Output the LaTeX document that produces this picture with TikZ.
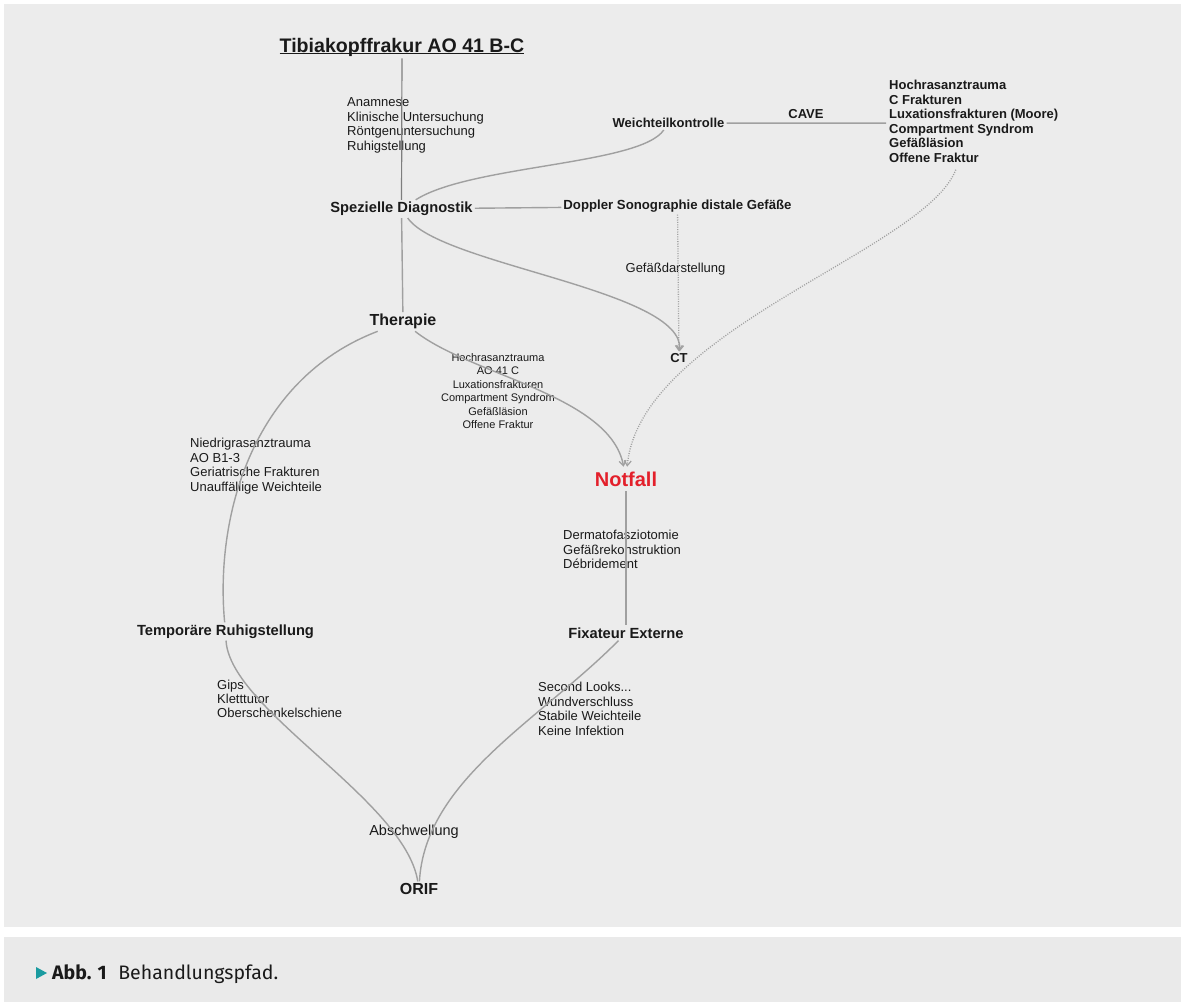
\documentclass[tikz,border=0pt]{standalone}
\usepackage{fontspec}
\setmainfont{Liberation Sans}
\newfontfamily\capfont{Fira Sans}
\usetikzlibrary{arrows.meta}
\definecolor{panel}{HTML}{ECECEC}
\definecolor{cappanel}{HTML}{EAEAEA}
\definecolor{linegray}{HTML}{A0A0A0}
\definecolor{titlegray}{HTML}{7E7E7E}
\definecolor{txt}{HTML}{1A1A1A}
\definecolor{notred}{HTML}{E3202B}
\definecolor{capteal}{HTML}{1A9BA0}
\newcommand\fs[2]{\fontsize{#1}{#2}\selectfont}
\newcommand\ulbox[1]{\setbox0\hbox{#1}\rlap{\rule[-2.4pt]{\wd0}{1.3pt}}\box0}
\begin{document}
\begin{tikzpicture}[x=1pt,y=-1pt,
  every node/.style={text=txt},
  hd/.style={font=\bfseries\fs{#1}{#1}, inner sep=2pt, anchor=base},
  lbl/.style={inner sep=0pt, anchor=base west},
  conn/.style={draw=linegray, line width=1.4pt},
  dots/.style={draw=linegray, line width=1.3pt, dash pattern=on 1pt off 1.4pt},
  tip/.style={-{Straight Barb[length=5pt,width=7pt,line width=1.2pt]}},
]
\useasboundingbox (0,0) rectangle (1181,1002);
\fill[white] (0,0) rectangle (1181,1002);
\fill[panel] (4,4) rectangle (1181,927);
\fill[cappanel] (4,937) rectangle (1181,1002);

% main nodes
\node[hd=19.6] (title) at (402,52) {\ulbox{Tibiakopffrakur AO 41 B-C}};
\node[hd=14.7] (spez) at (401.5,212.7) {Spezielle Diagnostik};
\node[hd=13] (weich) at (668.5,127.7) {Weichteilkontrolle};
\node[hd=13] (cave) at (806,118.7) {CAVE};
\node[lbl, inner sep=3pt, font=\bfseries\fs{13}{14.5}] (hoch) at (886,89.7)
  {\begin{tabular}[t]{@{}l@{}}Hochrasanztrauma\\C Frakturen\\Luxationsfrakturen (Moore)\\Compartment Syndrom\\Gefäßläsion\\Offene Fraktur\end{tabular}};
\node[hd=13.2] (dop) at (677.5,209.7) {Doppler Sonographie distale Gefäße};
\node[hd=13] (ct) at (679,362.7) {CT};
\node[hd=16] (ther) at (403,325.8) {Therapie};
\node[hd=20, text=notred, outer sep=3pt] (notf) at (626,486.2) {Notfall};
\node[hd=14.7] (fix) at (626,638.2) {Fixateur Externe};
\node[hd=14.7] (temp) at (225.5,635.2) {Temporäre Ruhigstellung};
\node[hd=16] (orif) at (419,894.8) {ORIF};

% label groups
\node[lbl, font=\fs{13}{14.5}] (anam) at (347,106.7)
  {\begin{tabular}[t]{@{}l@{}}Anamnese\\Klinische Untersuchung\\Röntgenuntersuchung\\Ruhigstellung\end{tabular}};
\node[font=\fs{13}{14.5}, inner sep=0pt, anchor=base] (gef) at (675.5,272.7) {Gefäßdarstellung};
\node[font=\fs{11}{13.5}, inner sep=0pt, anchor=base] (crit) at (498,361)
  {\begin{tabular}[t]{@{}c@{}}Hochrasanztrauma\\AO 41 C\\Luxationsfrakturen\\Compartment Syndrom\\Gefäßläsion\\Offene Fraktur\end{tabular}};
\node[lbl, font=\fs{13}{14.5}] (niedr) at (190,447.7)
  {\begin{tabular}[t]{@{}l@{}}Niedrigrasanztrauma\\AO B1-3\\Geriatrische Frakturen\\Unauffällige Weichteile\end{tabular}};
\node[lbl, font=\fs{13}{14.5}] (derm) at (563,539.7)
  {\begin{tabular}[t]{@{}l@{}}Dermatofasziotomie\\Gefäßrekonstruktion\\Débridement\end{tabular}};
\node[lbl, font=\fs{13}{14}] (gips) at (217,689.7)
  {\begin{tabular}[t]{@{}l@{}}Gips\\Kletttutor\\Oberschenkelschiene\end{tabular}};
\node[lbl, font=\fs{13}{14.5}] (second) at (538,691.7)
  {\begin{tabular}[t]{@{}l@{}}Second Looks...\\Wundverschluss\\Stabile Weichteile\\Keine Infektion\end{tabular}};
\node[font=\fs{14.5}{16}, inner sep=0pt, anchor=base] (absch) at (414,835.2) {Abschwellung};

% connectors
\draw[conn, draw=titlegray, line width=1.2pt] (title) -- (spez);
\draw[conn] (spez) -- (ther);
\draw[conn] (spez) -- (dop);
\draw[conn] (spez) .. controls (470,165) and (640,165) .. (weich);
\draw[conn] (weich) -- (hoch);
\draw[conn, tip] (spez) .. controls (440,265) and (685,290) .. (ct);
\draw[dots, tip] (dop) -- (ct);
\draw[dots, tip] (hoch) .. controls (925,250) and (640,330) .. (notf);
\draw[conn, tip] (ther) .. controls (470,375) and (610,395) .. (notf);
\draw[conn] (ther) .. controls (250,380) and (215,520) .. (temp);
\draw[conn] (temp) .. controls (230,710) and (405,800) .. (orif);
\draw[conn] (notf) -- (fix);
\draw[conn] (fix) .. controls (540,720) and (425,780) .. (orif);

% caption
\fill[capteal] (36,967) -- (47,973) -- (36,979) -- cycle;
\node[font=\capfont\fs{19.5}{21}, anchor=base west, inner sep=0pt] (cap) at (52,979)
  {\textbf{Abb. 1}\hspace{0.6em}Behandlungspfad.};
\end{tikzpicture}
\end{document}
